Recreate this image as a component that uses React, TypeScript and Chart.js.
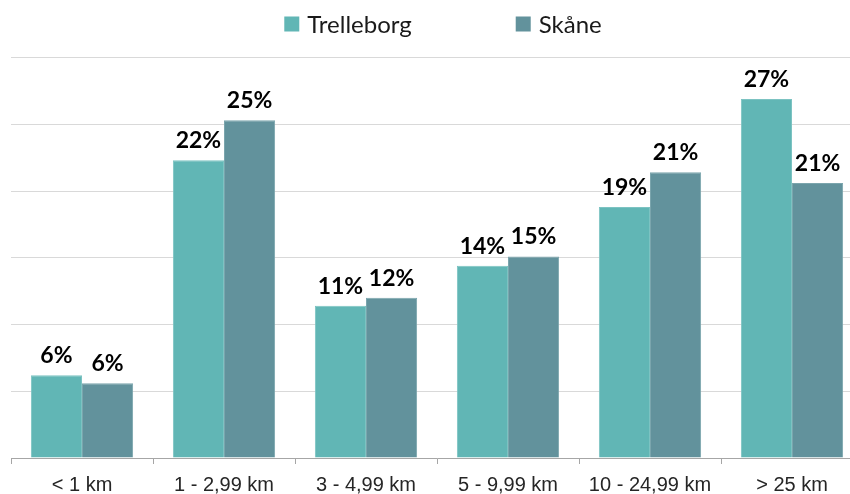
import React, { useEffect, useRef } from "react";
import { Chart, registerables } from "chart.js";

Chart.register(...registerables);

const categories = ["< 1 km", "1 - 2,99 km", "3 - 4,99 km", "5 - 9,99 km", "10 - 24,99 km", "> 25 km"];
const trelleborg = [6.2, 22.3, 11.4, 14.4, 18.8, 26.9];
const skane = [5.6, 25.3, 12.0, 15.1, 21.4, 20.6];
const seriesNames = ["Trelleborg", "Skåne"];
const yMax = 30;
const yStep = 5;

const COLORS = ["#61B6B5", "#62929C"];
const BORDERS = ["#7cc3c2", "#7ba5ad"];

const dataLabels = {
  id: "dataLabels",
  afterDatasetsDraw(chart: any) {
    const ctx = chart.ctx;
    ctx.save();
    ctx.font = "bold 23px Lato";
    ctx.fillStyle = "#000000";
    ctx.textAlign = "center";
    ctx.textBaseline = "alphabetic";
    chart.data.datasets.forEach((ds: any, i: number) => {
      const meta = chart.getDatasetMeta(i);
      meta.data.forEach((bar: any, j: number) => {
        const v = ds.data[j];
        ctx.fillText(Math.round(v) + "%", bar.x, bar.y - 12);
      });
    });
    ctx.restore();
  },
};

const customLegend = {
  id: "customLegend",
  afterDraw(chart: any) {
    const ctx = chart.ctx;
    const area = chart.chartArea;
    ctx.save();
    ctx.font = "24px Lato";
    const box = 15;
    const gap = 8;
    const itemGap = 104;
    const items = chart.data.datasets.map((ds: any) => ({
      label: ds.label,
      color: ds.backgroundColor,
      w: box + gap + ctx.measureText(ds.label).width,
    }));
    const total = items.reduce((s: number, it: any) => s + it.w, 0) + itemGap * (items.length - 1);
    let x = (area.left + area.right) / 2 + 6 - total / 2;
    const cy = 24;
    items.forEach((it: any) => {
      ctx.fillStyle = it.color;
      ctx.fillRect(x, cy - box / 2, box, box);
      ctx.fillStyle = "#1a1a1a";
      ctx.textAlign = "left";
      ctx.textBaseline = "middle";
      ctx.fillText(it.label, x + box + gap, cy + 1);
      x += it.w + itemGap;
    });
    ctx.restore();
  },
};

export default function App() {
  const ref = useRef<HTMLCanvasElement>(null);
  useEffect(() => {
    if (!ref.current) return;
    const chart = new Chart(ref.current, {
      type: "bar",
      data: {
        labels: categories,
        datasets: [
          {
            label: seriesNames[0],
            data: trelleborg,
            backgroundColor: COLORS[0],
            borderColor: BORDERS[0],
            borderWidth: 1,
            categoryPercentage: 0.72,
            barPercentage: 1.0,
          },
          {
            label: seriesNames[1],
            data: skane,
            backgroundColor: COLORS[1],
            borderColor: BORDERS[1],
            borderWidth: 1,
            categoryPercentage: 0.72,
            barPercentage: 1.0,
          },
        ],
      },
      options: {
        responsive: false,
        animation: false,
        devicePixelRatio: 1,
        layout: { padding: { top: 57.5, left: 11, right: 7, bottom: 0 } },
        plugins: {
          legend: { display: false },
          tooltip: { enabled: false },
          title: { display: false },
        },
        scales: {
          x: {
            offset: true,
            border: { display: true, color: "#a6a6a6", width: 1 },
            grid: {
              offset: true,
              drawOnChartArea: false,
              drawTicks: true,
              tickLength: 6,
              color: "#a6a6a6",
            },
            ticks: {
              color: "#262626",
              font: { family: "Liberation Sans, Arial", size: 20 },
              padding: 9,
              maxRotation: 0,
              autoSkip: false,
            },
          },
          y: {
            min: 0,
            max: yMax,
            ticks: { display: false, stepSize: yStep },
            border: { display: false },
            grid: { color: "#d9d9d9", lineWidth: 1, drawTicks: false },
          },
        },
      },
      plugins: [dataLabels, customLegend],
    });
    return () => chart.destroy();
  }, []);
  return (
    <div style={{ position: "fixed", left: 0, top: 0, width: 850, height: 494, overflow: "hidden", background: "#ffffff" }}>
      <canvas ref={ref} width={870} height={506} style={{ display: "block" }} />
    </div>
  );
}
